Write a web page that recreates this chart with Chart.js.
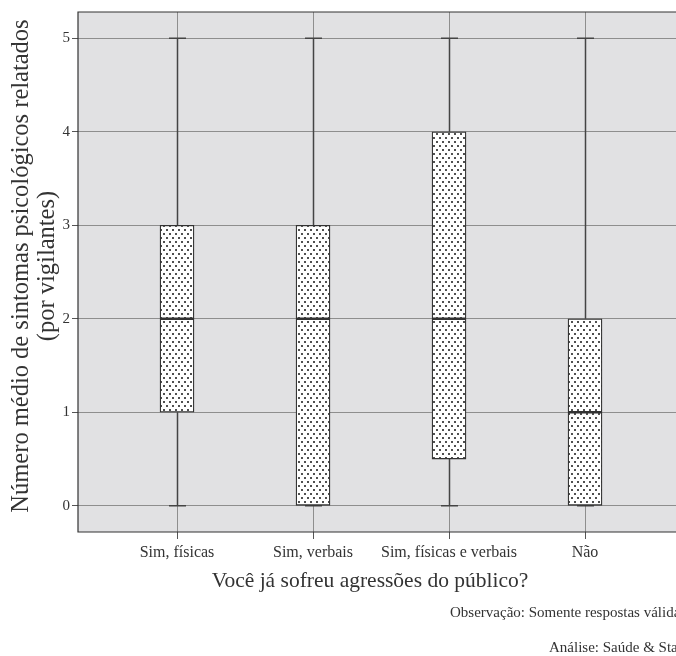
<!DOCTYPE html>
<html>
<head>
<meta charset="utf-8">
<script src="https://cdn.jsdelivr.net/npm/chart.js@4.4.1/dist/chart.umd.min.js"></script>
<style>
  body { margin: 0; background: #fff; }
  canvas { display: block; }
</style>
</head>
<body>
<canvas id="boxChart" width="676" height="656"></canvas>
<script>
const categories = ['Sim, físicas', 'Sim, verbais', 'Sim, físicas e verbais', 'Não'];
const mins = [0, 0, 0, 0];
const q1s = [1, 0, 0.5, 0];
const medians = [2, 2, 2, 1];
const q3s = [3, 3, 4, 2];
const maxs = [5, 5, 5, 5];
const yTicks = [0, 1, 2, 3, 4, 5];

const FONT = '"Liberation Serif", "DejaVu Serif", serif';

function dotPattern() {
    const c = document.createElement('canvas');
    c.width = 6; c.height = 8;
    const g = c.getContext('2d');
    g.fillStyle = '#ffffff';
    g.fillRect(0, 0, 6, 8);
    g.fillStyle = '#505050';
    g.fillRect(1, 1, 2, 2);
    g.fillRect(4, 5, 2, 2);
    return g.createPattern(c, 'repeat');
}

const boxPlugin = {
    id: 'boxPlugin',
    beforeDraw(chart) {
        const { ctx, chartArea: a } = chart;
        ctx.save();
        ctx.fillStyle = '#e1e1e3';
        ctx.fillRect(a.left, a.top, a.right - a.left, a.bottom - a.top);
        ctx.restore();
    },
    beforeDatasetsDraw(chart) {
        const { ctx, scales: { x, y } } = chart;
        ctx.save();
        ctx.strokeStyle = '#444';
        ctx.lineWidth = 1.5;
        categories.forEach((c, i) => {
            const px = Math.round(x.getPixelForValue(i)) + 0.5;
            ctx.beginPath();
            ctx.moveTo(px, y.getPixelForValue(q3s[i]));
            ctx.lineTo(px, y.getPixelForValue(maxs[i]));
            ctx.moveTo(px, y.getPixelForValue(q1s[i]));
            ctx.lineTo(px, y.getPixelForValue(mins[i]));
            ctx.moveTo(px - 8.5, y.getPixelForValue(maxs[i]));
            ctx.lineTo(px + 8.5, y.getPixelForValue(maxs[i]));
            ctx.moveTo(px - 8.5, y.getPixelForValue(mins[i]));
            ctx.lineTo(px + 8.5, y.getPixelForValue(mins[i]));
            ctx.stroke();
        });
        ctx.restore();
    },
    afterDatasetsDraw(chart) {
        const { ctx, scales: { x, y } } = chart;
        ctx.save();
        ctx.strokeStyle = '#333';
        ctx.lineWidth = 2.5;
        categories.forEach((c, i) => {
            const px = x.getPixelForValue(i);
            const py = y.getPixelForValue(medians[i]);
            ctx.beginPath();
            ctx.moveTo(px - 17, py);
            ctx.lineTo(px + 17, py);
            ctx.stroke();
        });
        ctx.restore();
    },
    afterDraw(chart) {
        const { ctx, chartArea: a } = chart;
        ctx.save();
        ctx.strokeStyle = '#333';
        ctx.lineWidth = 1.2;
        ctx.beginPath();
        ctx.moveTo(chart.width, a.top);
        ctx.lineTo(a.left, a.top);
        ctx.lineTo(a.left, a.bottom);
        ctx.lineTo(chart.width, a.bottom);
        ctx.stroke();

        ctx.fillStyle = '#333';
        // y title
        ctx.save();
        ctx.translate(22, 266);
        ctx.rotate(-Math.PI / 2);
        ctx.textAlign = 'center';
        ctx.textBaseline = 'middle';
        ctx.font = '24.5px ' + FONT;
        ctx.fillText('Número médio de sintomas psicológicos relatados', 0, 0);
        ctx.fillText('(por vigilantes)', 0, 26);
        ctx.restore();
        // x title
        ctx.textAlign = 'center';
        ctx.textBaseline = 'middle';
        ctx.font = '21.5px ' + FONT;
        ctx.fillText('Você já sofreu agressões do público?', 370, 581);
        // notes
        ctx.textAlign = 'left';
        ctx.font = '15px ' + FONT;
        ctx.fillText('Observação: Somente respostas válidas', 450, 613);
        ctx.fillText('Análise: Saúde & Sta', 549, 648);
        ctx.restore();
    }
};

new Chart(document.getElementById('boxChart'), {
    type: 'bar',
    data: {
        datasets: [{
            data: categories.map((c, i) => ({ x: i, y: [q1s[i], q3s[i]] })),
            backgroundColor: dotPattern(),
            borderColor: '#333',
            borderWidth: 1.3,
            borderSkipped: false,
            barThickness: 34,
        }]
    },
    options: {
        responsive: false,
        animation: false,
        layout: { padding: { top: 12, right: 0, left: 0, bottom: 0 } },
        plugins: { legend: { display: false }, tooltip: { enabled: false } },
        scales: {
            x: {
                type: 'linear',
                offset: false,
                min: -0.728,
                max: 3.669,
                afterFit(scale) { scale.height = 124; },
                afterBuildTicks(scale) {
                    scale.ticks = categories.map((c, i) => ({ value: i }));
                },
                ticks: {
                    callback: (v) => categories[v],
                    font: { family: FONT, size: 16 },
                    color: '#333',
                    padding: 4,
                    maxRotation: 0,
                    autoSkip: false,
                },
                grid: { offset: false, color: '#8e8e8e', lineWidth: 1, tickLength: 7, tickColor: '#555' },
                border: { display: false },
            },
            y: {
                min: -0.28,
                max: 5.28,
                afterFit(scale) { scale.width = 78; },
                afterBuildTicks(scale) {
                    scale.ticks = yTicks.map(v => ({ value: v }));
                },
                ticks: {
                    font: { family: FONT, size: 15 },
                    color: '#333',
                    padding: 2,
                },
                grid: { color: '#8e8e8e', lineWidth: 1, tickLength: 6, tickColor: '#555' },
                border: { display: false },
            }
        }
    },
    plugins: [boxPlugin]
});
</script>
</body>
</html>
